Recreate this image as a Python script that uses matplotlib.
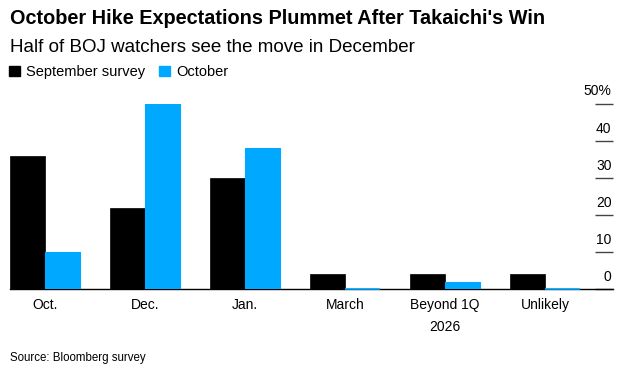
import numpy as np
import matplotlib
matplotlib.use('Agg')
import matplotlib.pyplot as plt
import matplotlib.transforms as mtransforms
from matplotlib.patches import Patch

plt.rcParams['font.family'] = ['Liberation Sans', 'DejaVu Sans']

categories = ['Oct.', 'Dec.', 'Jan.', 'March', 'Beyond 1Q\n2026', 'Unlikely']
september = [36, 22, 30, 4, 4, 4]
october = [10, 50, 38, 0, 2, 0]
series_names = ['September survey', 'October']
yticks = [0, 10, 20, 30, 40, 50]
ytick_labels = ['0', '10', '20', '30', '40', '50%']

black = '#000000'
blue = '#00a9ff'

fig = plt.figure(figsize=(6.3, 3.7), dpi=100)
ax = fig.add_axes([10 / 630, (370 - 289.3) / 370, 603 / 630, (289.3 - 104) / 370])

x = np.arange(len(categories))
w = 0.35
ax.bar(x - w / 2, september, w, color=black, edgecolor=black, linewidth=0.5, zorder=3)
ax.bar(x + w / 2, october, w, color=blue, edgecolor=blue, linewidth=0.8, zorder=3)

# zero values still show as a thin blue line on the baseline
for xi, v in zip(x, october):
    if v == 0:
        ax.hlines(0, xi, xi + w, color=blue, linewidth=1.2, zorder=4, clip_on=False)

ax.set_xlim(-0.35, 5.68)
ax.set_ylim(0, 50)

for s in ['top', 'left', 'right']:
    ax.spines[s].set_visible(False)
ax.spines['bottom'].set_color('black')
ax.spines['bottom'].set_linewidth(1)

ax.set_xticks(x)
ax.set_xticklabels(categories, fontsize=10, linespacing=1.8)
ax.tick_params(axis='x', length=0, pad=6)

ax.yaxis.tick_right()
ax.set_yticks(yticks)
ax.set_yticklabels([])
ax.tick_params(axis='y', direction='in', length=13, width=1, color='#444444')

# tick labels sit above the short tick lines, right-aligned to the axis end
lift = mtransforms.ScaledTranslation(-1 / 72, 4 / 72, fig.dpi_scale_trans)
for val, lab in zip(yticks, ytick_labels):
    ax.text(1.0, val, lab, transform=ax.get_yaxis_transform() + lift,
            ha='right', va='bottom', fontsize=10, clip_on=False)

fig.text(10 / 630, 1 - 18 / 370, "October Hike Expectations Plummet After Takaichi's Win",
         fontsize=14.3, fontweight='bold', va='center', ha='left')
fig.text(10 / 630, 1 - 47 / 370, 'Half of BOJ watchers see the move in December',
         fontsize=13.5, va='center', ha='left')
fig.text(10 / 630, 1 - 358 / 370, 'Source: Bloomberg survey',
         fontsize=8.3, va='center', ha='left')

handles = [Patch(color=black), Patch(color=blue)]
fig.legend(handles, series_names, loc='center left', bbox_to_anchor=(3 / 630, 1 - 72 / 370),
           ncol=2, frameon=False, fontsize=10.5, handlelength=0.75, handleheight=0.75,
           handletextpad=0.4, columnspacing=1.0, borderaxespad=0)

fig.savefig('out.png', dpi=100)
